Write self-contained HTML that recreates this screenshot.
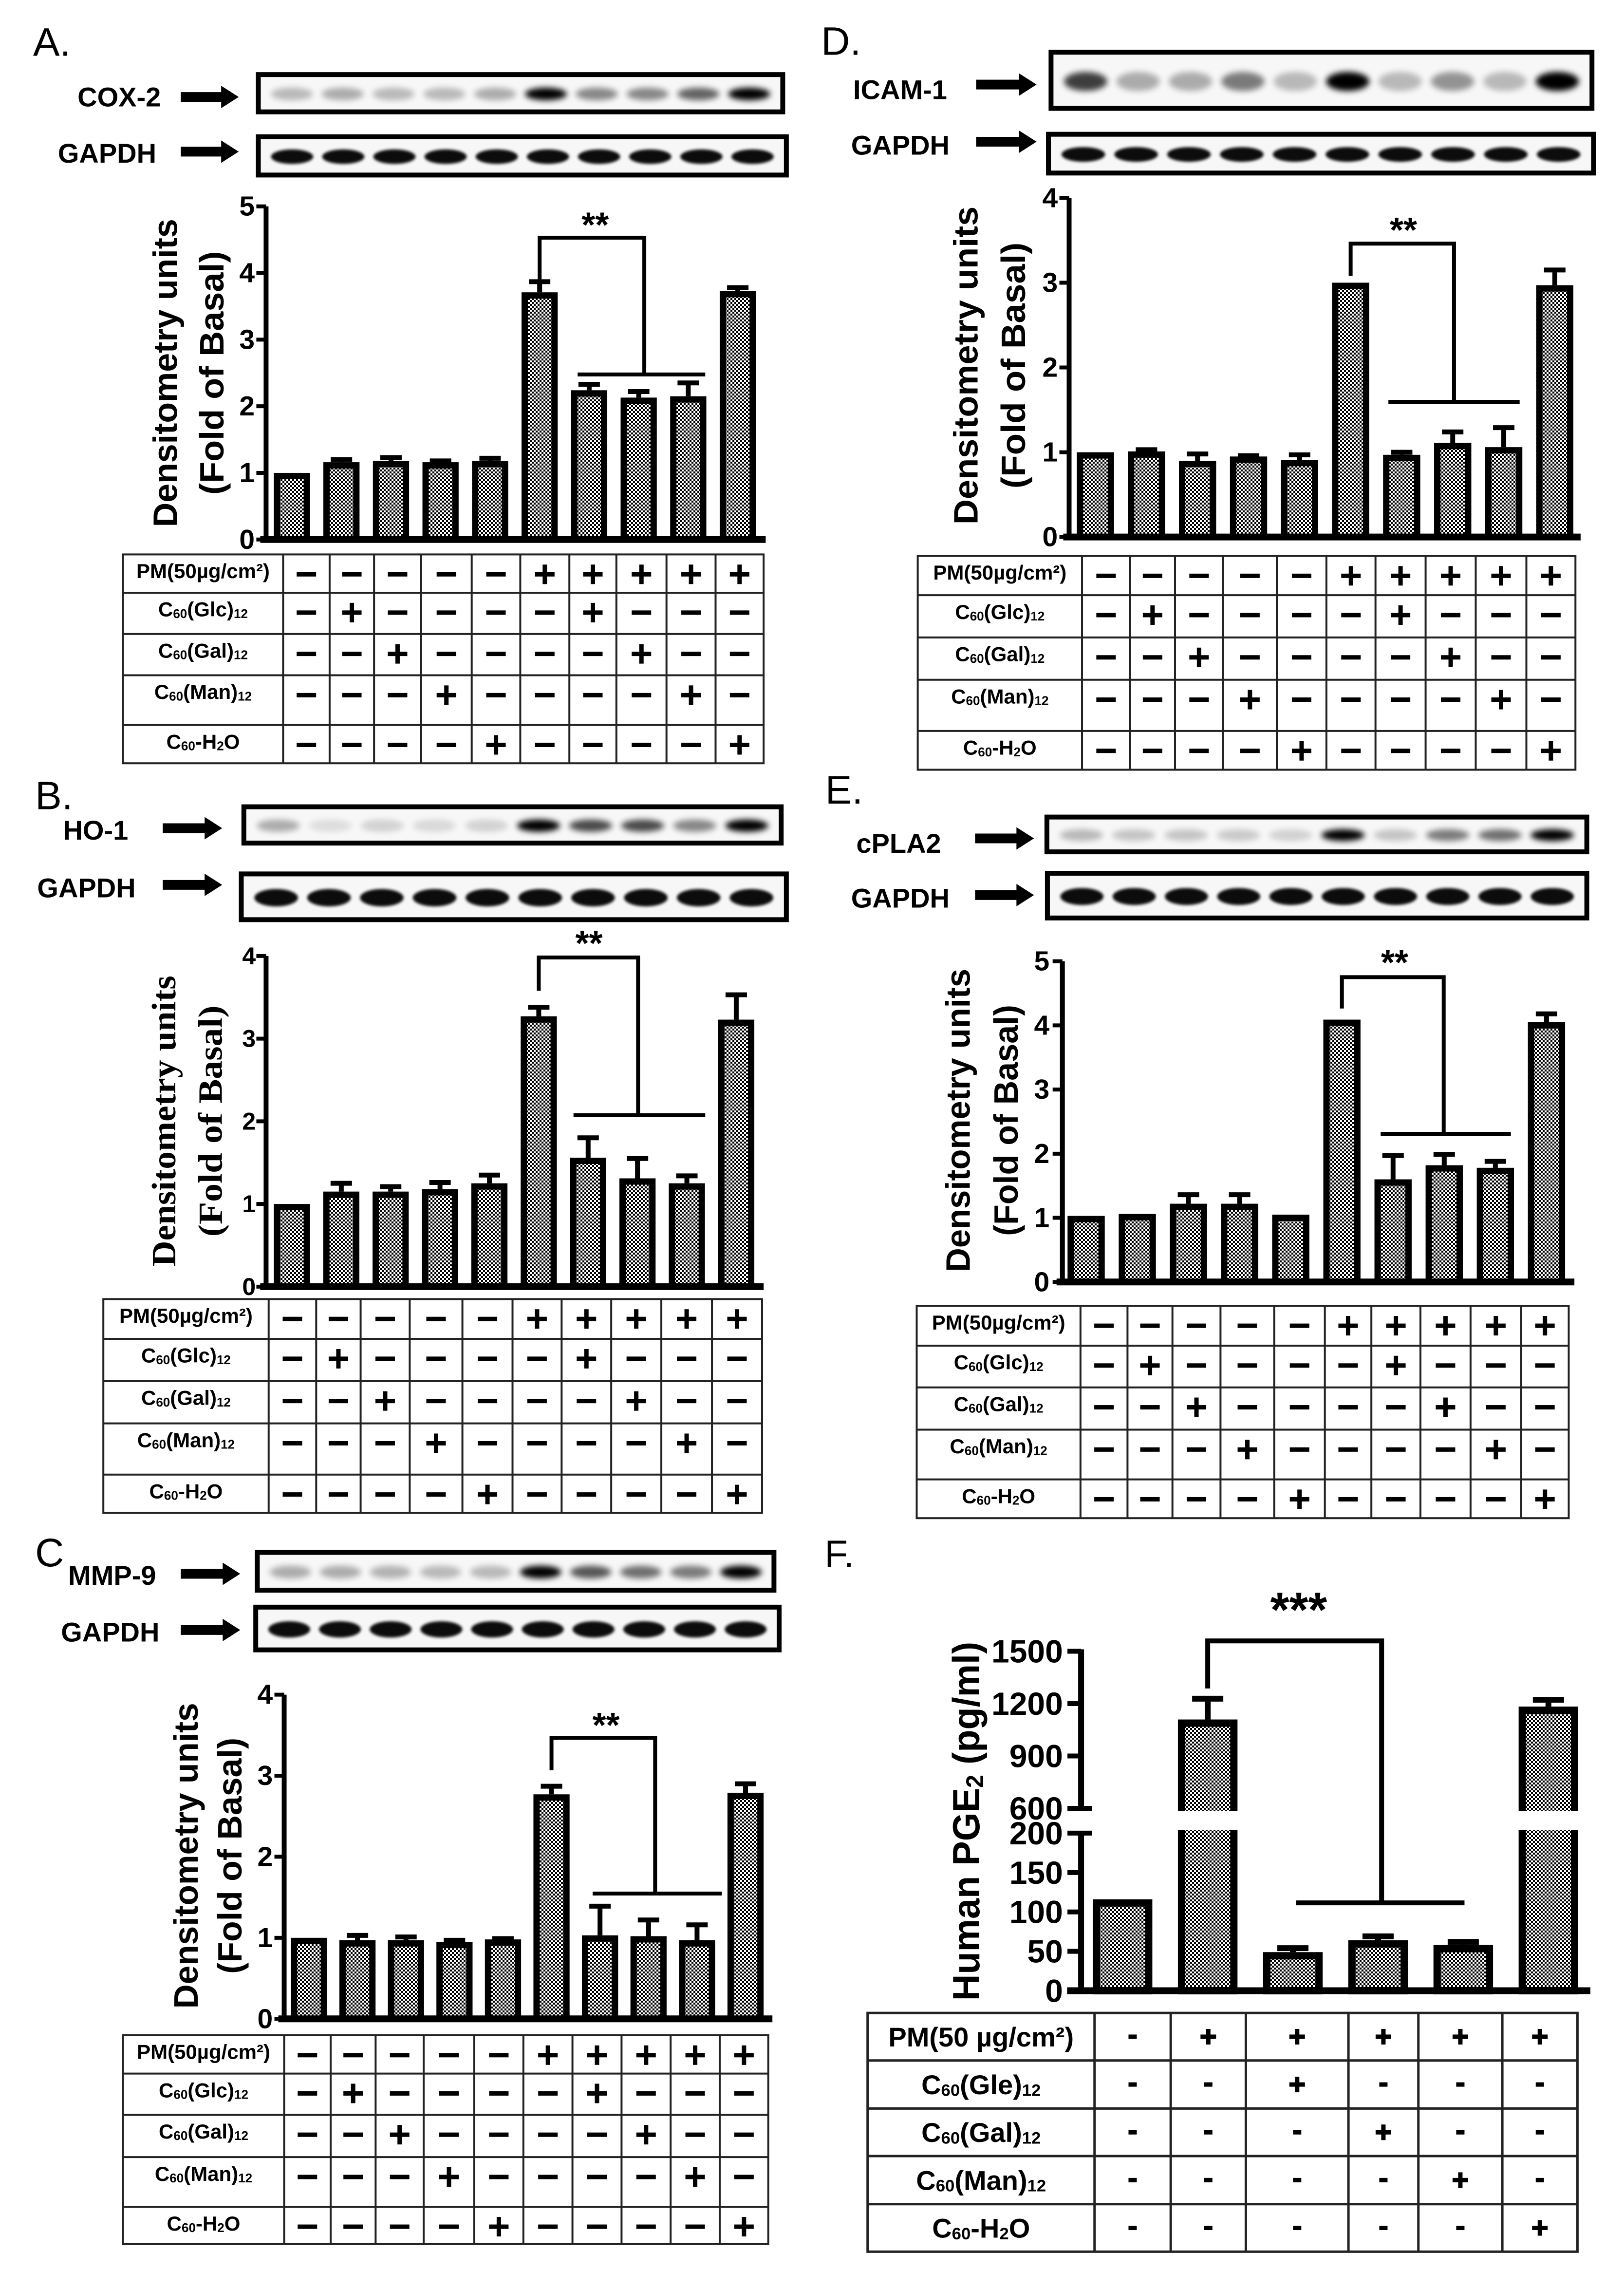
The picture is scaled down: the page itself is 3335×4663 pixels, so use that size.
<!DOCTYPE html>
<html><head><meta charset="utf-8">
<style>html,body{margin:0;padding:0;background:#fff}svg{display:block}</style>
</head><body>
<svg id="fig" width="3335" height="4663" viewBox="0 0 3335 4663" xmlns="http://www.w3.org/2000/svg" font-family="'Liberation Sans', sans-serif">
<defs>
<pattern id="chk" width="8" height="8" patternUnits="userSpaceOnUse"><rect width="8" height="8" fill="#fff"/><rect width="4" height="4" fill="#000"/><rect x="4" y="4" width="4" height="4" fill="#000"/></pattern>
<filter id="blur" x="-50%" y="-150%" width="200%" height="400%"><feGaussianBlur stdDeviation="6"/></filter>
<filter id="blur2" x="-50%" y="-150%" width="200%" height="400%"><feGaussianBlur stdDeviation="3"/></filter>
</defs>
<rect width="3335" height="4663" fill="#fff"/>
</svg>
<script>
const categories = ['Basal','Glc','Gal','Man','H2O','PM','PM+Glc','PM+Gal','PM+Man','PM+H2O'];
const valsA = [1.0,1.16,1.18,1.16,1.18,3.71,2.24,2.13,2.15,3.73];
const errA  = [0,0.04,0.05,0.02,0.04,0.16,0.09,0.09,0.2,0.05];
const valsB = [1.0,1.15,1.15,1.18,1.25,3.27,1.56,1.31,1.25,3.23];
const errB  = [0,0.1,0.06,0.08,0.1,0.11,0.24,0.24,0.09,0.3];
const valsC = [1.0,0.97,0.97,0.95,0.98,2.77,1.03,1.02,0.97,2.79];
const errC  = [0,0.06,0.04,0.02,0.01,0.1,0.36,0.2,0.19,0.11];
const valsD = [1.0,1.01,0.9,0.95,0.91,3.0,0.97,1.11,1.06,2.97];
const errD  = [0,0.02,0.08,0.01,0.06,0,0.03,0.13,0.23,0.18];
const valsE = [1.03,1.06,1.22,1.22,1.05,4.09,1.6,1.82,1.78,4.05];
const errE  = [0,0,0.14,0.14,0,0,0.37,0.17,0.1,0.13];
const ticksA = [0,1,2,3,4,5];
const ticksB = [0,1,2,3,4];
const ticksC = [0,1,2,3,4];
const ticksD = [0,1,2,3,4];
const ticksE = [0,1,2,3,4,5];
const bandsA = [0.25,0.3,0.25,0.25,0.3,1,0.45,0.45,0.6,1];
const bandsB = [0.3,0.1,0.15,0.12,0.15,1,0.7,0.7,0.45,1];
const bandsC = [0.3,0.3,0.28,0.25,0.25,1,0.65,0.55,0.5,1];
const bandsD = [0.75,0.3,0.3,0.5,0.25,1,0.25,0.4,0.25,1];
const bandsE = [0.25,0.2,0.2,0.18,0.15,1,0.2,0.5,0.55,1];
const bandsGapdh = [0.95,0.95,0.95,0.95,0.95,0.95,0.95,0.95,0.95,0.95];
const pmSigns  = [0,0,0,0,0,1,1,1,1,1];
const glcSigns = [0,1,0,0,0,0,1,0,0,0];
const galSigns = [0,0,1,0,0,0,0,1,0,0];
const manSigns = [0,0,0,1,0,0,0,0,1,0];
const h2oSigns = [0,0,0,0,1,0,0,0,0,1];
const catsF = ['Basal','PM','PM+Gle','PM+Gal','PM+Man','PM+H2O'];
const valsF = [116,1109,49,64,58,1183];
const errF  = [0,119,5,5,4,39];
const ticksFLow = [0,50,100,150,200];
const ticksFHigh = [600,900,1200,1500];
const pmF  = [0,1,1,1,1,1];
const glcF = [0,0,1,0,0,0];
const galF = [0,0,0,1,0,0];
const manF = [0,0,0,0,1,0];
const h2oF = [0,0,0,0,0,1];

const NS = 'http://www.w3.org/2000/svg';
const svg = document.getElementById('fig');
function mk(tag, parent, geo) {
  const e = document.createElementNS(NS, tag);
  for (const k in geo) e.setAttribute(k, geo[k]);
  parent.appendChild(e);
  return e;
}
const rowLabelsA = [
  [['PM(50µg/cm²)',0]],
  [['C',0],['60',1],['(Glc)',0],['12',1]],
  [['C',0],['60',1],['(Gal)',0],['12',1]],
  [['C',0],['60',1],['(Man)',0],['12',1]],
  [['C',0],['60',1],['-H',0],['2',1],['O',0]]
];
const rowLabelsF = [
  [['PM(50 µg/cm²)',0]],
  [['C',0],['60',1],['(Gle)',0],['12',1]],
  [['C',0],['60',1],['(Gal)',0],['12',1]],
  [['C',0],['60',1],['(Man)',0],['12',1]],
  [['C',0],['60',1],['-H',0],['2',1],['O',0]]
];
function richText(parent, parts, x, y, fs) {
  const t = mk('text', parent, {x:x, y:y, 'text-anchor':'middle', 'dominant-baseline':'central', 'font-size':fs, 'font-weight':'bold'});
  
  
  let sub = 0;
  parts.forEach(p => {
    const geo = {};
    if (p[1] && !sub) { geo.dy = fs*0.22; geo['font-size'] = fs*0.62; }
    else if (!p[1] && sub) { geo.dy = -fs*0.22; }
    else if (p[1]) { geo['font-size'] = fs*0.62; }
    sub = p[1];
    const s = mk('tspan', t, geo);
    
    
    s.textContent = p[0];
  });
  return t;
}
function sign(parent, plus, cx, cy, w, th) {
  const r = mk('rect', parent, {x:cx-w/2, y:cy-th/2, width:w, height:th, fill:'#000'});
  
  
  if (plus) {
    const v = mk('rect', parent, {x:cx-th/2, y:cy-w/2, width:th, height:w, fill:'#000'});
    
    
  }
}
function arrow(parent, x1, x2, y) {
  const hl = 36, sh = 10, hh = 23;
  const p = mk('path', parent, {d:`M${x1},${y-sh}H${x2-hl}V${y-hh}L${x2},${y}L${x2-hl},${y+hh}V${y+sh}H${x1}Z`, fill:'#000'});
  
  
}
function blot(parent, X, Y, b, bands, dark, name) {
  const x1 = X(b[0]), y1 = Y(b[1]), x2 = X(b[2]), y2 = Y(b[3]);
  const r = mk('rect', parent, {x:x1, y:y1, width:x2-x1, height:y2-y1, fill:'#f7f7f7', stroke:'#000', 'stroke-width':10});
  
  
  const w = x2-x1, h = y2-y1;
  bands.forEach((v, i) => {
    const cx = x1 + w*(0.064 + i*(1-0.128)/9);
    const e = mk('ellipse', parent, {cx:cx, cy:y1+h*0.52, rx:w*0.04, ry:dark ? h*0.19 : h*0.17, fill:'#000', opacity:v, filter: dark ? 'url(#blur2)' : 'url(#blur)'});
    
    
  });
}

function buildPanel(L, vals, errs, ticks, bands) {
  const X = z => L.x0 + z*1.061, Y = z => L.y0 + z*1.021;
  const g = mk('g', svg, {});
  
  
  const lt = mk('text', g, {x:X(L.lx), y:Y(L.ly), 'font-size':82});
  
  
  lt.textContent = L.letter;
  const pl = mk('text', g, {x:X(L.px), y:Y(L.py), 'font-size':56, 'font-weight':'bold', 'dominant-baseline':'central'});
  
  
  pl.textContent = L.prot;
  const gl = mk('text', g, {x:X(L.gx), y:Y(L.gy), 'font-size':56, 'font-weight':'bold', 'dominant-baseline':'central'});
  
  
  gl.textContent = 'GAPDH';
  arrow(g, X(L.ar1[0]), X(L.ar1[1]), Y(L.ar1[2]));
  arrow(g, X(L.ar2[0]), X(L.ar2[1]), Y(L.ar2[2]));
  blot(g, X, Y, L.blot1, bands, false, 'protein-blot');
  blot(g, X, Y, L.blot2, bandsGapdh, true, 'gapdh-blot');

  const y0 = Y(L.y0z), yt = Y(L.ytz), ax = X(L.axX);
  const ys = v => y0 + (yt - y0)*v/L.ymax;
  const xc = i => X(L.c0 + i*(L.c9 - L.c0)/(vals.length - 1));
  const bw = L.bw*1.061;
  const sw = 13;
  vals.forEach((v, i) => {
    if (errs[i] > 0) {
      const ey = ys(v + errs[i]);
      const el = mk('path', g, {d:`M${xc(i)},${ys(v)}V${ey}M${xc(i)-22},${ey}H${xc(i)+22}`, stroke:'#000', 'stroke-width':10, fill:'none'});
      
      
    }
    const r = mk('rect', g, {x:xc(i)-bw/2+sw/2, y:ys(v)+sw/2, width:bw-sw, height:y0-ys(v)-sw/2, fill:'url(#chk)', stroke:'#000', 'stroke-width':sw});
    
    
  });
  const yaxis = mk('line', g, {x1:ax, y1:y0, x2:ax, y2:yt, stroke:'#000', 'stroke-width':10});
  
  
  const xaxis = mk('line', g, {x1:ax-12, y1:y0, x2:X(L.xEnd), y2:y0, stroke:'#000', 'stroke-width':14});
  
  
  ticks.forEach(t => {
    const tk = mk('line', g, {x1:ax-20, y1:ys(t), x2:ax, y2:ys(t), stroke:'#000', 'stroke-width':8});
    
    
    const tl = mk('text', g, {x:X(L.tickX), y:ys(t), 'text-anchor':'end', 'dominant-baseline':'central', 'font-size':L.tickFs, 'font-weight':'bold'});
    
    
    tl.textContent = t;
  });
  const fam = L.serif ? "'Liberation Serif', serif" : "'Liberation Sans', sans-serif";
  const t1 = mk('text', g, {transform:`translate(${X(L.t1x)},${Y(L.tcy)}) rotate(-90)`, 'text-anchor':'middle', 'dominant-baseline':'central', 'font-size':70, 'font-weight':'bold', 'font-family':fam, textLength:L.t1len*1.021, lengthAdjust:'spacingAndGlyphs'});
  
  
  t1.textContent = 'Densitometry units';
  const t2 = mk('text', g, {transform:`translate(${X(L.t2x)},${Y(L.tcy)}) rotate(-90)`, 'text-anchor':'middle', 'dominant-baseline':'central', 'font-size':70, 'font-weight':'bold', 'font-family':fam, textLength:L.t2len*1.021, lengthAdjust:'spacingAndGlyphs'});
  
  
  t2.textContent = '(Fold of Basal)';
  const b = L.br;
  const br = mk('path', g, {d:`M${xc(5)},${Y(b[1])}V${Y(b[2])}H${X(b[3])}V${Y(b[4])}M${X(b[5])},${Y(b[4])}H${X(b[6])}`, stroke:'#000', 'stroke-width':8, fill:'none'});
  
  
  const st = mk('text', g, {x:X(L.starX), y:Y(L.starY)+22, 'text-anchor':'middle', 'font-size':72, 'font-weight':'bold'});
  
  
  st.textContent = '**';

  const tg = mk('g', g, {});
  
  
  const tx1 = X(L.tl), tx2 = X(L.cols[10]), ty1 = Y(L.rows[0]), ty2 = Y(L.rows[5]);
  const tb = mk('rect', tg, {x:tx1, y:ty1, width:tx2-tx1, height:ty2-ty1, fill:'none', stroke:'#222', 'stroke-width':4});
  
  
  for (let r = 1; r < 5; r++) {
    const ln = mk('line', tg, {x1:tx1, y1:Y(L.rows[r]), x2:tx2, y2:Y(L.rows[r]), stroke:'#222', 'stroke-width':4});
    
    
  }
  for (let c = 0; c < 10; c++) {
    const ln = mk('line', tg, {x1:X(L.cols[c]), y1:ty1, x2:X(L.cols[c]), y2:ty2, stroke:'#222', 'stroke-width':4});
    
    
  }
  const signRows = [pmSigns, glcSigns, galSigns, manSigns, h2oSigns];
  for (let r = 0; r < 5; r++) {
    richText(tg, rowLabelsA[r], (tx1 + X(L.cols[0]))/2, Y(L.rows[r] + 33), 42);
    for (let c = 0; c < 10; c++) {
      sign(tg, signRows[r][c], (X(L.cols[c]) + X(L.cols[c+1]))/2, Y(L.rows[r] + 40), 40, 9);
    }
  }
}

const LA = {id:'a', x0:0, y0:0, letter:'A.', lx:64, ly:112, prot:'COX-2', px:150, py:195, gx:112, gy:308, ar1:[350,462,195], ar2:[350,462,305], blot1:[500,150,1515,225], blot2:[500,275,1522,352], axX:515, y0z:1085, ytz:415, ymax:5, xEnd:1482, c0:565, c9:1428, bw:70, t1x:320, t2x:410, tcy:750, t1len:620, t2len:490, serif:false, tickX:493, tickFs:57, br:[1055,565,478,1247,753,1118,1365], starX:1152, starY:455, tl:238, rows:[1115,1192,1275,1358,1458,1535], cols:[548,638,724,815,913,1007,1102,1193,1290,1385,1478]};
const LB = {id:'b', x0:0, y0:1580, letter:'B.', lx:68, ly:80, prot:'HO-1', px:122, py:122, gx:72, gy:238, ar1:[315,430,118], ar2:[315,430,232], blot1:[472,75,1512,148], blot2:[467,210,1522,302], axX:515, y0z:1040, ytz:375, ymax:4, xEnd:1478, c0:565, c9:1425, bw:70, t1x:318, t2x:408, tcy:707, t1len:585, t2len:465, serif:true, tickX:495, tickFs:50, br:[1040,445,378,1235,695,1110,1365], starX:1140, starY:352, tl:200, rows:[1065,1145,1230,1315,1418,1495], cols:[520,612,698,793,895,992,1087,1183,1280,1378,1475]};
const LC = {id:'c', x0:0, y0:3063, letter:'C', lx:68, ly:150, prot:'MMP-9', px:132, py:168, gx:118, gy:282, ar1:[350,465,165], ar2:[350,465,278], blot1:[498,122,1498,198], blot2:[495,232,1508,318], axX:550, y0z:1060, ytz:408, ymax:4, xEnd:1495, c0:598, c9:1443, bw:70, t1x:360, t2x:445, tcy:732, t1len:615, t2len:475, serif:false, tickX:528, tickFs:57, br:[1077,560,495,1268,808,1147,1397], starX:1173, starY:472, tl:238, rows:[1093,1170,1253,1338,1438,1513], cols:[550,640,727,820,918,1013,1108,1203,1298,1393,1487]};
const LD = {id:'d', x0:1665, y0:0, letter:'D.', lx:20, ly:110, prot:'ICAM-1', px:82, py:180, gx:78, gy:292, ar1:[320,437,170], ar2:[320,437,285], blot1:[465,105,1512,218], blot2:[460,270,1515,348], axX:500, y0z:1080, ytz:398, ymax:4, xEnd:1490, c0:551, c9:1440, bw:72, t1x:300, t2x:392, tcy:735, t1len:640, t2len:495, serif:false, tickX:478, tickFs:57, br:[1048,555,490,1245,808,1118,1372], starX:1147, starY:465, tl:207, rows:[1118,1197,1282,1367,1470,1548], cols:[525,618,705,798,902,998,1093,1190,1287,1385,1480]};
const LE = {id:'e', x0:1665, y0:1550, letter:'E.', lx:28, ly:98, prot:'cPLA2', px:88, py:178, gx:78, gy:288, ar1:[318,432,168], ar2:[318,432,282], blot1:[457,125,1502,195], blot2:[458,238,1502,328], axX:487, y0z:1060, ytz:415, ymax:5, xEnd:1478, c0:533, c9:1424, bw:72, t1x:285, t2x:378, tcy:735, t1len:610, t2len:465, serif:false, tickX:462, tickFs:57, br:[1033,510,447,1225,762,1103,1355], starX:1130, starY:420, tl:205, rows:[1108,1188,1272,1357,1457,1535], cols:[522,613,700,793,897,995,1085,1180,1277,1375,1467]};

buildPanel(LA, valsA, errA, ticksA, bandsA);
buildPanel(LB, valsB, errB, ticksB, bandsB);
buildPanel(LC, valsC, errC, ticksC, bandsC);
buildPanel(LD, valsD, errD, ticksD, bandsD);
buildPanel(LE, valsE, errE, ticksE, bandsE);

// Panel F (broken axis)
(function(){
  const L = {x0:1670, y0:3000, axX:517, y0z:1025, y200z:720, y600z:672, y1500z:368, xEnd:1500, c0:597, c5:1419, bw:115, tx:295, tcy:697, tlen:695, tickX:482, br:[440,348,1097,855,932,1257], starX:937, starY:290, tl:105, rows:[1068,1160,1253,1345,1438,1530], cols:[543,690,835,1033,1168,1330,1475]};
  const X = z => L.x0 + z*1.064, Y = z => L.y0 + z*1.061;
  const g = mk('g', svg, {});
  
  
  const lt = mk('text', g, {x:X(22), y:Y(205), 'font-size':78});
  
  
  lt.textContent = 'F.';
  const y0 = Y(L.y0z), y200 = Y(L.y200z), y600 = Y(L.y600z), y1500 = Y(L.y1500z), ax = X(L.axX);
  const ys = v => v <= 200 ? y0 + (y200 - y0)*v/200 : y600 + (y1500 - y600)*(v - 600)/900;
  const xc = i => X(L.c0 + i*(L.c5 - L.c0)/(valsF.length - 1));
  const bw = L.bw*1.064;
  const sw = 15;
  valsF.forEach((v, i) => {
    if (errF[i] > 0) {
      const ey = ys(v + errF[i]);
      const el = mk('path', g, {d:`M${xc(i)},${ys(v)}V${ey}M${xc(i)-32},${ey}H${xc(i)+32}`, stroke:'#000', 'stroke-width':12, fill:'none'});
      
      
    }
    const r = mk('rect', g, {x:xc(i)-bw/2+sw/2, y:ys(v)+sw/2, width:bw-sw, height:y0-ys(v)-sw/2, fill:'url(#chk)', stroke:'#000', 'stroke-width':sw});
    
    
    if (v > 600) {
      const gap = mk('rect', g, {x:xc(i)-bw/2-8, y:y600+6, width:bw+16, height:y200-y600-12, fill:'#fff'});
      
      
    }
  });
  const ya1 = mk('line', g, {x1:ax, y1:y0, x2:ax, y2:y200, stroke:'#000', 'stroke-width':12});
  
  
  const ya2 = mk('line', g, {x1:ax, y1:y600, x2:ax, y2:y1500-4, stroke:'#000', 'stroke-width':12});
  
  
  [y600, y200].forEach(yy => {
    const bk = mk('line', g, {x1:ax, y1:yy, x2:ax+22, y2:yy, stroke:'#000', 'stroke-width':10});
    
    
  });
  const xa = mk('line', g, {x1:X(490), y1:y0, x2:X(L.xEnd), y2:y0, stroke:'#000', 'stroke-width':14});
  
  
  ticksFLow.concat(ticksFHigh).forEach(t => {
    const tk = mk('line', g, {x1:ax-28, y1:ys(t), x2:ax, y2:ys(t), stroke:'#000', 'stroke-width':10});
    
    
    const tl = mk('text', g, {x:X(L.tickX), y:ys(t), 'text-anchor':'end', 'dominant-baseline':'central', 'font-size':66, 'font-weight':'bold'});
    
    
    tl.textContent = t;
  });
  const tt = mk('text', g, {transform:`translate(${X(L.tx)},${Y(L.tcy)}) rotate(-90)`, 'text-anchor':'middle', 'dominant-baseline':'central', 'font-size':78, 'font-weight':'bold', textLength:L.tlen*1.061, lengthAdjust:'spacingAndGlyphs'});
  
  
  const s1 = mk('tspan', tt, {});
  
  
  s1.textContent = 'Human PGE';
  const s2 = mk('tspan', tt, {'font-size':50, dy:18});
  
  
  s2.textContent = '2';
  const s3 = mk('tspan', tt, {dy:-18});
  
  
  s3.textContent = ' (pg/ml)';
  const b = L.br;
  const br = mk('path', g, {d:`M${xc(1)},${Y(b[0])}V${Y(b[1])}H${X(b[2])}V${Y(b[3])}M${X(b[4])},${Y(b[3])}H${X(b[5])}`, stroke:'#000', 'stroke-width':10, fill:'none'});
  
  
  const st = mk('text', g, {x:X(L.starX), y:Y(L.starY)+32, 'text-anchor':'middle', 'font-size':100, 'font-weight':'bold'});
  
  
  st.textContent = '***';

  const tg = mk('g', g, {});
  
  
  const tx1 = X(L.tl), tx2 = X(L.cols[6]), ty1 = Y(L.rows[0]), ty2 = Y(L.rows[5]);
  const tb = mk('rect', tg, {x:tx1, y:ty1, width:tx2-tx1, height:ty2-ty1, fill:'none', stroke:'#222', 'stroke-width':5});
  
  
  for (let r = 1; r < 5; r++) {
    const ln = mk('line', tg, {x1:tx1, y1:Y(L.rows[r]), x2:tx2, y2:Y(L.rows[r]), stroke:'#222', 'stroke-width':5});
    
    
  }
  for (let c = 0; c < 6; c++) {
    const ln = mk('line', tg, {x1:X(L.cols[c]), y1:ty1, x2:X(L.cols[c]), y2:ty2, stroke:'#222', 'stroke-width':5});
    
    
  }
  const signRows = [pmF, glcF, galF, manF, h2oF];
  for (let r = 0; r < 5; r++) {
    const cy = (Y(L.rows[r]) + Y(L.rows[r+1]))/2;
    richText(tg, rowLabelsF[r], (tx1 + X(L.cols[0]))/2, cy, 56);
    for (let c = 0; c < 6; c++) {
      const cx = (X(L.cols[c]) + X(L.cols[c+1]))/2;
      if (signRows[r][c]) sign(tg, true, cx, cy, 32, 9);
      else sign(tg, false, cx, cy, 17, 9);
    }
  }
})();
</script>
</body></html>
